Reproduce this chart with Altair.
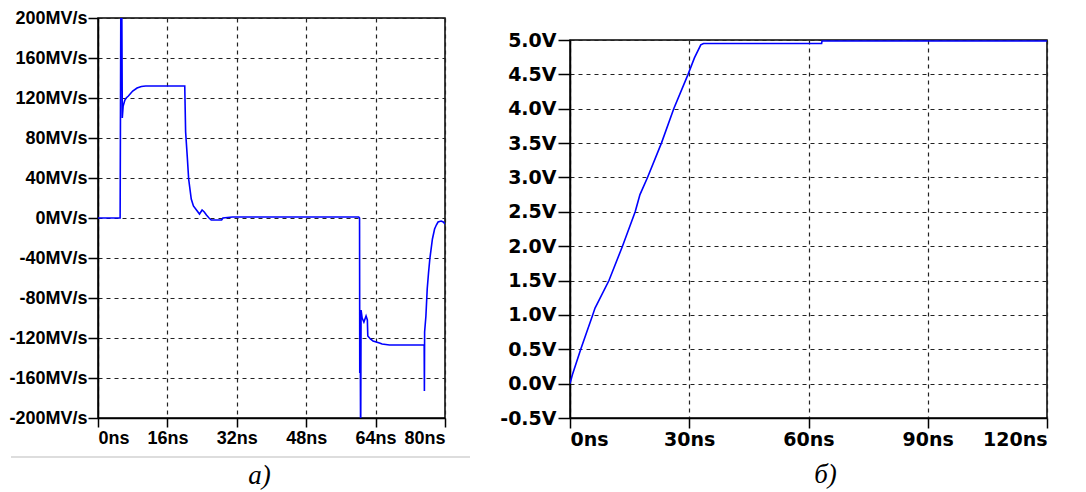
import altair as alt
import pandas as pd

# ---- panel a) : slew rate (MV/s) vs time (ns)
a_time = [0, 5.1, 5.3, 5.45, 5.6, 5.8, 6.2, 6.5, 7.0, 8.0, 9.0, 10.0, 11.0, 20.0,
          20.2, 20.6, 20.9, 21.5, 22.0, 22.7, 23.4, 24.0, 24.5, 25.0, 25.6, 26.1,
          28.5, 28.8, 31.0, 40.0, 50.0, 60.1, 60.3, 60.35, 60.45, 60.55, 60.65,
          60.9, 61.3, 61.8, 62.1, 62.2, 62.8, 63.4, 64.9, 65.5, 67.2, 75.2, 75.25,
          75.3, 75.6, 75.9, 76.2, 76.5, 77.1, 77.6, 78.0, 78.4, 79.1, 79.6, 80.0]
a_rate = [0, 0, 260, 250, 100, 112, 118, 120, 122, 127, 130, 131.5, 132, 132,
          86, 60, 39, 19, 12, 8, 4, 8, 6, 3, 0, -2,
          -2, 0, 1, 1, 1, 1, 0, -155, -95, -240, -92,
          -100, -104, -98, -102, -118, -121, -123, -125, -126, -127, -127, -173,
          -114, -98, -71, -55, -41, -21, -11, -7, -4, -3, -4, -6]
a_xticks = [0, 16, 32, 48, 64, 80]
a_yticks = [-200, -160, -120, -80, -40, 0, 40, 80, 120, 160, 200]

# ---- panel б) : voltage (V) vs time (ns)
b_time = [0, 0.6, 2.7, 5.6, 6.3, 9.8, 13.2, 16.4, 17.6, 19.5, 23.0, 26.1, 29.7,
          31.3, 32.9, 33.6, 63.3, 63.4, 120]
b_volt = [0, 0.13, 0.5, 0.98, 1.1, 1.5, 2.0, 2.5, 2.75, 3.0, 3.5, 4.0, 4.5,
          4.74, 4.93, 4.95, 4.95, 4.985, 4.985]
b_xticks = [0, 30, 60, 90, 120]
b_yticks = [-0.5, 0, 0.5, 1, 1.5, 2, 2.5, 3, 3.5, 4, 4.5, 5]

caption_a = "а)"
caption_b = "б)"

df_a = pd.DataFrame({"i": range(len(a_time)), "t": a_time, "v": a_rate})
df_b = pd.DataFrame({"i": range(len(b_time)), "t": b_time, "v": b_volt})

LINE = "#0000ff"
GRID = dict(grid=True, gridColor="#222222", gridDash=[4, 4], gridWidth=1.2,
            domainColor="#000000", domainWidth=1.5, tickColor="#000000",
            tickWidth=1.5, labelColor="#000000", labelFontWeight="bold", title=None,
            labelOverlap=False)

fa = "Liberation Sans"
fb = "DejaVu Sans"

cap_style = dict(orient="bottom", font="Liberation Serif", fontStyle="italic",
                 fontWeight="normal", fontSize=27, color="#000000", anchor="middle")

left_line = alt.Chart(df_a).mark_line(color=LINE, strokeWidth=1.6, clip=True).encode(
    x=alt.X("t:Q", scale=alt.Scale(domain=[0, 80], nice=False, zero=False),
            axis=alt.Axis(values=a_xticks, labelExpr="datum.value + 'ns'",
                          labelFont=fa, labelFontSize=18, tickSize=9, labelPadding=2,
                          **GRID)),
    y=alt.Y("v:Q", scale=alt.Scale(domain=[-200, 200], nice=False),
            axis=alt.Axis(values=a_yticks, labelExpr="datum.value + 'MV/s'",
                          labelFont=fa, labelFontSize=18, tickSize=10, labelPadding=1,
                          **GRID)),
    order="i:Q",
)
sep = alt.Chart(alt.Data(values=[{}])).mark_rule(color="#dddddd", strokeWidth=2).encode(
    x=alt.value(-87), x2=alt.value(372), y=alt.value(439)
)
left = alt.layer(left_line, sep).properties(
    width=347, height=400,
    title=alt.TitleParams(text=caption_a, dx=-12, offset=5, **cap_style),
)

right_line = alt.Chart(df_b).mark_line(color=LINE, strokeWidth=1.6, clip=True).encode(
    x=alt.X("t:Q", scale=alt.Scale(domain=[0, 120], nice=False, zero=False),
            axis=alt.Axis(values=b_xticks, labelExpr="datum.value + 'ns'",
                          labelFont=fb, labelFontSize=19, tickSize=10, labelPadding=2,
                          **GRID)),
    y=alt.Y("v:Q", scale=alt.Scale(domain=[-0.5, 5], nice=False),
            axis=alt.Axis(values=b_yticks,
                          labelExpr="replace(format(datum.value, '.1f'), '\u2212', '-') + 'V'",
                          labelFont=fb, labelFontSize=19, tickSize=12, labelPadding=2,
                          **GRID)),
    order="i:Q",
).properties(
    width=477, height=378,
    title=alt.TitleParams(text=caption_b, dx=17, offset=13, **cap_style),
)

spacer = alt.Chart(alt.Data(values=[{}])).mark_point(opacity=0).encode(
    x=alt.value(0), y=alt.value(0)
).properties(width=10, height=12, view=alt.ViewBackground(stroke=None))

right = alt.vconcat(spacer, right_line, spacing=0)

chart = alt.hconcat(left, right, spacing=27).properties(
    padding={"left": 0, "top": 0, "right": 0, "bottom": 0},
    background="#ffffff",
).configure_view(stroke="#000000", strokeWidth=1.5)

chart.save("out.html", embed_options={"renderer": "svg", "actions": False})
